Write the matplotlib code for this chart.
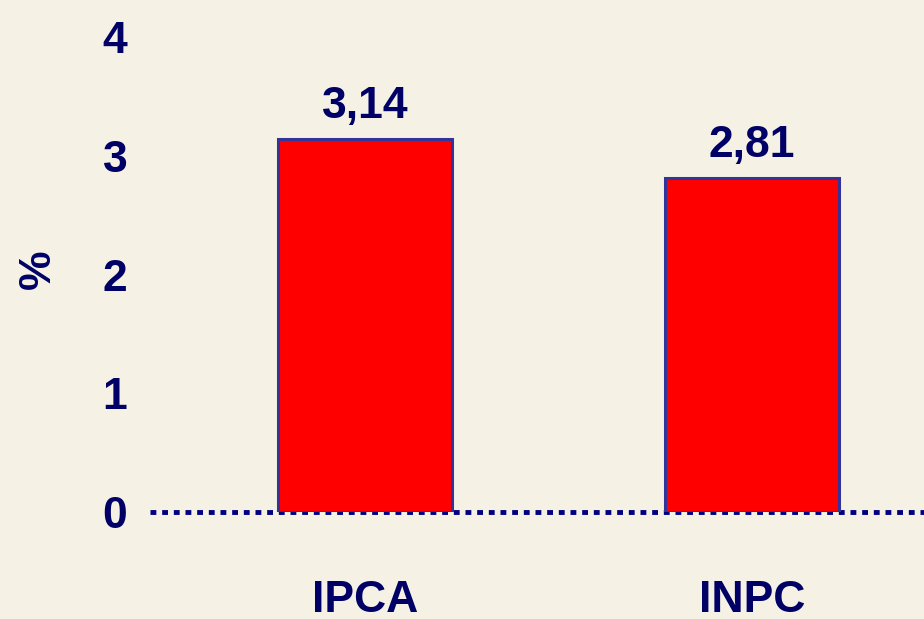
import matplotlib.pyplot as plt

# values
categories = ["IPCA", "INPC"]
values = [3.14, 2.81]
value_labels = ["3,14", "2,81"]
y_ticks = [0, 1, 2, 3, 4]

NAVY = "#000066"
EDGE = "#333399"
BG = "#F5F2E5"
FS = 32

plt.rcParams['font.family'] = ['Liberation Sans', 'DejaVu Sans']

fig = plt.figure(figsize=(9.24, 6.19), dpi=100, facecolor=BG)
ax = fig.add_axes([0.162, 0.173, 0.838, 0.767])
ax.set_facecolor(BG)

x = list(range(len(categories)))
ax.bar(x, values, width=0.45, color="#FF0000", edgecolor=EDGE, linewidth=2.2, zorder=3)

# dotted baseline at zero
ax.axhline(0, color="#000080", linewidth=3.5, linestyle=(0, (1.2, 1.2)),
           dash_capstyle="butt", zorder=2, clip_on=False)

for xi, v, lab in zip(x, values, value_labels):
    ax.annotate(lab, (xi, v), xytext=(0, 9), textcoords="offset points",
                ha="center", va="bottom", fontsize=FS, fontweight="bold", color=NAVY)
    ax.text(xi, -0.745, categories[xi], ha="center", va="center",
            fontsize=FS, fontweight="bold", color=NAVY, clip_on=False)

ax.set_xlim(-0.556, 1.444)
ax.set_ylim(0, 4)
ax.set_yticks(y_ticks)
ax.set_yticklabels([str(t) for t in y_ticks], fontsize=FS, fontweight="bold", color=NAVY)
ax.tick_params(axis="y", length=0, pad=16)
ax.set_xticks([])
for s in ax.spines.values():
    s.set_visible(False)

fig.text(0.041, 0.565, "%", rotation=90, ha="center", va="center",
         fontsize=FS, fontweight="bold", color=NAVY)

fig.savefig("out.png", dpi=100, facecolor=BG)
